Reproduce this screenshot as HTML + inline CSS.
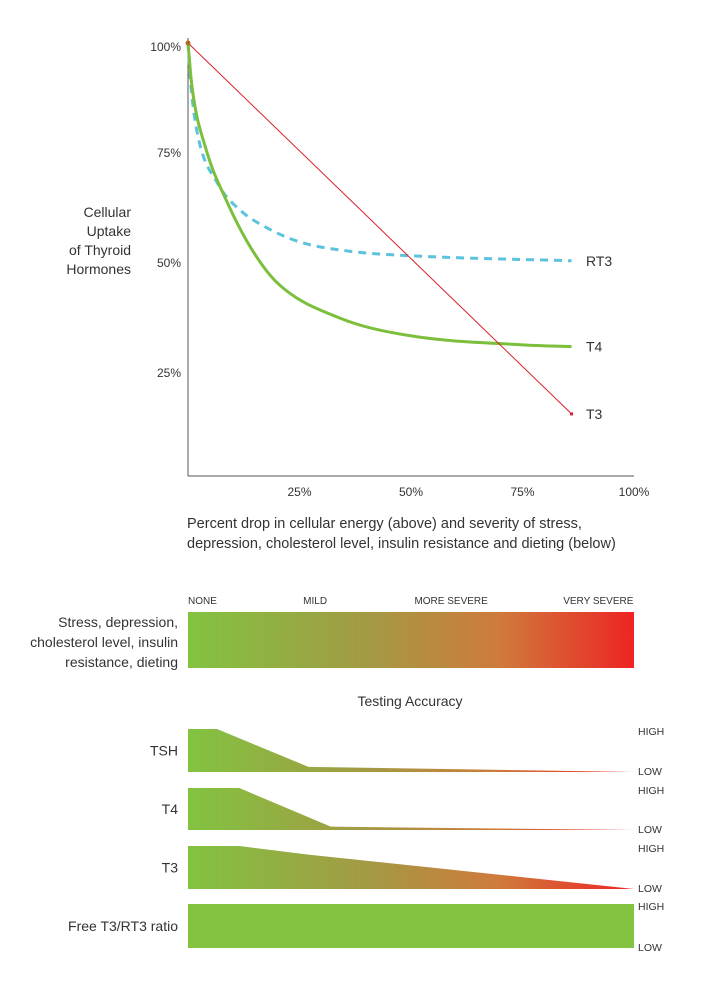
<!DOCTYPE html>
<html><head><meta charset="utf-8"><style>
body{margin:0;background:#fff;font-family:"Liberation Sans",sans-serif;}
svg text{font-family:"Liberation Sans",sans-serif;fill:#333;}
</style></head><body>
<svg id="c" width="702" height="978" viewBox="0 0 702 978" xmlns="http://www.w3.org/2000/svg">
<defs>
<linearGradient id="g" gradientUnits="userSpaceOnUse" x1="188" y1="0" x2="634" y2="0">
<stop offset="0" stop-color="#82c341"/><stop offset="0.4" stop-color="#a39a44"/><stop offset="0.7" stop-color="#cf7a3c"/><stop offset="1" stop-color="#ee2424"/>
</linearGradient>
</defs>
<g id="plot"></g>
</svg>
<script>
const xTicks=[25,50,75,100];
const yTicks=[100,75,50,25];
const t3X=[0,86]; const t3Y=[100,15.7];
const rt3X=[0,0.5,2,6.7,11.7,17.7,25,36,51,86];
const rt3Y=[100,92,80,68,62,58,54.8,52.7,51.6,50.5];
const t4X=[0,0.9,4,8.7,14,20,34,49,75,86];
const t4Y=[100,90,76,64,53.6,45.5,37.5,33.6,31.4,31];
const severityLabels=["NONE","MILD","MORE SEVERE","VERY SEVERE"];
const severityPos=[0,28.5,59,92];
const rows=["TSH","T4","T3","Free T3/RT3 ratio"];
const accFlat=[6.5,11.5,11.5,100];
const accKneeX=[27,32,27,100];
const accKneeY=[0.12,0.08,0.8,1];
const sx=v=>188+v*4.46, sy=v=>483-v*4.4;
const P=document.getElementById('plot');
const NS='http://www.w3.org/2000/svg';
function mk(t,a,txt){const e=document.createElementNS(NS,t);for(const k in a)e.setAttribute(k,a[k]);if(txt!=null)e.textContent=txt;P.appendChild(e);return e;}
let e;
e=mk('line',{x1:188,y1:38,x2:188,y2:476,stroke:'#555','stroke-width':1});


e=mk('line',{x1:188,y1:476,x2:634,y2:476,stroke:'#555','stroke-width':1});


yTicks.forEach(v=>{e=mk('text',{x:181,y:sy(v)+(v==100?8:4),'font-size':12,'text-anchor':'end'},v+'%');

});
xTicks.forEach(v=>{e=mk('text',{x:sx(v),y:496,'font-size':12,'text-anchor':'middle'},v+'%');

});
function mono(xs,ys){const p=xs.map((x,i)=>[sx(x),sy(ys[i])]);const n=p.length;const d=[],m=[];
for(let i=0;i<n-1;i++)d.push((p[i+1][1]-p[i][1])/(p[i+1][0]-p[i][0]));
m[0]=d[0];m[n-1]=d[n-2];for(let i=1;i<n-1;i++){m[i]=(d[i-1]*d[i]<=0)?0:(d[i-1]+d[i])/2;}
for(let i=0;i<n-1;i++){if(d[i]===0){m[i]=m[i+1]=0;continue;}const a=m[i]/d[i],b=m[i+1]/d[i],s=a*a+b*b;if(s>9){const t=3/Math.sqrt(s);m[i]=t*a*d[i];m[i+1]=t*b*d[i];}}
let s='M'+p[0];for(let i=0;i<n-1;i++){const h=(p[i+1][0]-p[i][0])/3;s+=' C'+(p[i][0]+h)+','+(p[i][1]+m[i]*h)+' '+(p[i+1][0]-h)+','+(p[i+1][1]-m[i+1]*h)+' '+p[i+1][0]+','+p[i+1][1];}return s;}
e=mk('path',{d:mono(rt3X,rt3Y),fill:'none',stroke:'#5bc3dc','stroke-width':3,'stroke-dasharray':'8,6'});


e=mk('path',{d:mono(t4X,t4Y),fill:'none',stroke:'#7cbf3c','stroke-width':3});


e=mk('line',{x1:sx(t3X[0]),y1:sy(t3Y[0]),x2:sx(t3X[1]),y2:sy(t3Y[1]),stroke:'#d9202a','stroke-width':1});


e=mk('circle',{cx:sx(0),cy:sy(100),r:2.5,fill:'#b5651d'});


e=mk('rect',{x:sx(t3X[1])-1.5,y:sy(t3Y[1])-1.5,width:3,height:3,fill:'#d9202a'});


[['RT3',rt3Y[rt3Y.length-1]],['T4',t4Y[t4Y.length-1]],['T3',t3Y[1]]].forEach(([n,v])=>{e=mk('text',{x:586,y:sy(v)+5,'font-size':14},n);

});
['Cellular','Uptake','of Thyroid','Hormones'].forEach((t,i)=>{e=mk('text',{x:131,y:217+i*19,'font-size':14,'text-anchor':'end'},t);

});
['Percent drop in cellular energy (above) and severity of stress,','depression, cholesterol level, insulin resistance and dieting (below)'].forEach((t,i)=>{e=mk('text',{x:187,y:528+i*20,'font-size':14.5},t);

});
severityLabels.forEach((t,i)=>{e=mk('text',{x:sx(severityPos[i]),y:604,'font-size':10,'text-anchor':i==0?'start':'middle'},t);

});
e=mk('rect',{x:188,y:612,width:446,height:56,fill:'url(#g)'});


['Stress, depression,','cholesterol level, insulin','resistance, dieting'].forEach((t,i)=>{e=mk('text',{x:178,y:627+i*20,'font-size':14,'text-anchor':'end'},t);

});
e=mk('text',{x:410,y:706,'font-size':14,'text-anchor':'middle'},'Testing Accuracy');


const rowTop=[729,788,846,904], rowH=[43,42,43,44];
rows.forEach((r,i)=>{const t=rowTop[i],b=t+rowH[i],h=rowH[i];
let d;
if(accFlat[i]>=100)d=`M188,${t}H634V${b}H188Z`;
else{const ky=b-accKneeY[i]*h;d=`M188,${t}H${sx(accFlat[i])}L${sx(accKneeX[i])},${ky}L634,${b}H188Z`;}
e=mk('path',{d:d,fill:accFlat[i]>=100?'#84c341':'url(#g)'});


e=mk('text',{x:178,y:t+h/2+5,'font-size':14,'text-anchor':'end'},r);


e=mk('text',{x:638,y:t+6,'font-size':10.5},'HIGH');


e=mk('text',{x:638,y:b+3,'font-size':10.5},'LOW');

});
</script>
</body></html>
